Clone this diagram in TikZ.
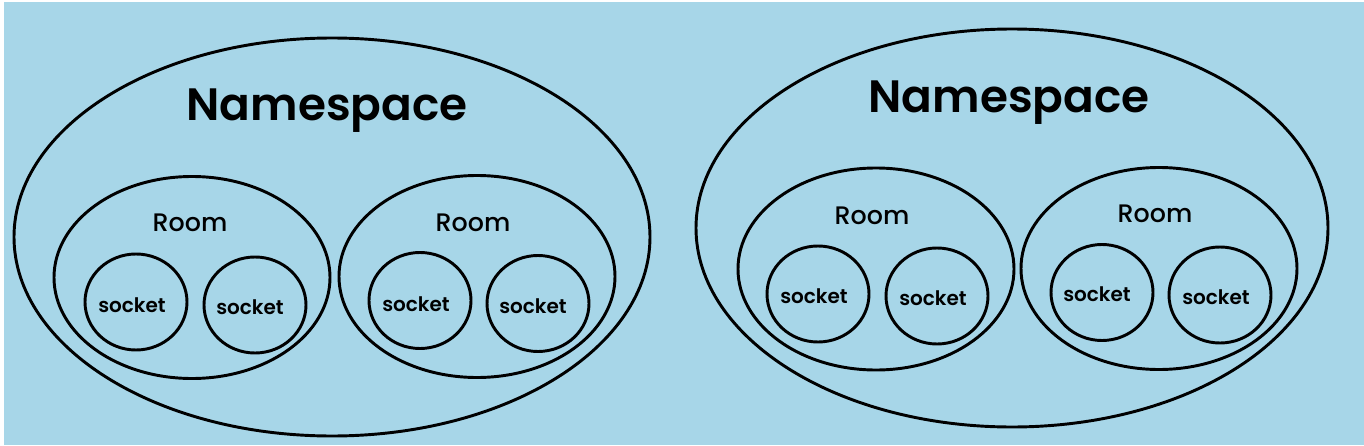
\documentclass[tikz,border=0pt]{standalone}
\usepackage{fontspec}
\setmainfont{Poppins}
\newfontfamily\nsfont{Poppins SemiBold}
\newfontfamily\medfont{Poppins Medium}
\usetikzlibrary{shapes.geometric}
\definecolor{bgblue}{RGB}{167,214,232}
\tikzset{
  ell/.style={draw=black, line width=2.2pt, ellipse, inner sep=0pt},
  sock/.style={ell, minimum width=76.5pt, minimum height=72pt},
  roomell/.style={ell, minimum width=207pt, minimum height=151.5pt},
  nsell/.style={ell, minimum width=477pt, minimum height=298.5pt},
  nstext/.style={anchor=base, inner sep=0pt, font=\nsfont\fontsize{34}{34}\selectfont},
  roomtext/.style={anchor=base, inner sep=0pt, font=\medfont\fontsize{19}{19}\selectfont},
  socktext/.style={anchor=base, inner sep=0pt, font=\nsfont\fontsize{15}{15}\selectfont}
}
\begin{document}
\begin{tikzpicture}[x=0.75pt,y=-0.75pt]
\fill[white] (0,0) rectangle (1364,446);
\fill[bgblue] (4,2) rectangle (1364,445);
\useasboundingbox (0,0) rectangle (1364,446);
% left group
\node[nsell] (ns1) at (332,237) {};
\node[roomell] (room1) at (192,277.5) {};
\node[roomell] (room2) at (477,276.5) {};
\node[sock] (s1) at (136,302) {};
\node[sock] (s2) at (255,305) {};
\node[sock] (s3) at (420,300.5) {};
\node[sock] (s4) at (538,303.5) {};
\node[nstext] (ns1t) at (327,120) {Namespace};
\node[roomtext] (r1t) at (190,231.5) {Room};
\node[roomtext] (r2t) at (473,231.5) {Room};
\node[socktext] (s1t) at (132,312) {socket};
\node[socktext] (s2t) at (250,314) {socket};
\node[socktext] (s3t) at (416,311) {socket};
\node[socktext] (s4t) at (533,313) {socket};
% right group
\node[nsell, minimum width=474pt] (ns2) at (1012,228) {};
\node[roomell] (room3) at (876,269) {};
\node[roomell] (room4) at (1159,268.5) {};
\node[sock] (s5) at (818,294) {};
\node[sock] (s6) at (937,296) {};
\node[sock] (s7) at (1102,292.5) {};
\node[sock] (s8) at (1220,295) {};
\node[nstext] (ns2t) at (1009,112) {Namespace};
\node[roomtext] (r3t) at (872,224.5) {Room};
\node[roomtext] (r4t) at (1155,222.5) {Room};
\node[socktext] (s5t) at (814,303) {socket};
\node[socktext] (s6t) at (933,305) {socket};
\node[socktext] (s7t) at (1097,301) {socket};
\node[socktext] (s8t) at (1216,304) {socket};
\end{tikzpicture}
\end{document}
